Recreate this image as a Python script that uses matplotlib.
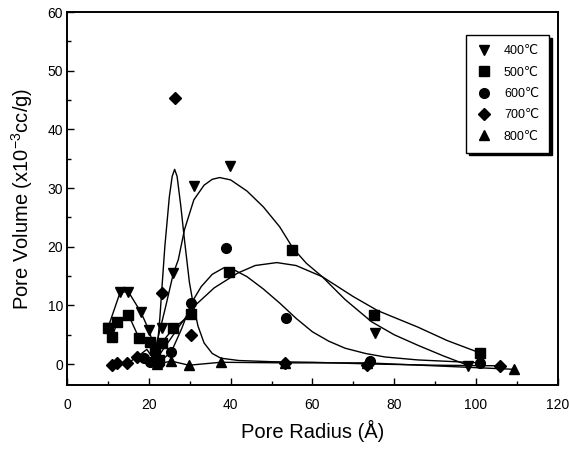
import matplotlib.pyplot as plt
from matplotlib.ticker import MultipleLocator

plt.rcParams['font.family'] = ['Liberation Sans', 'DejaVu Sans']

labels = ['400℃', '500℃', '600℃', '700℃', '800℃']
markers = ['v', 's', 'o', 'D', '^']

# measured points
x400 = [10, 13, 15, 18, 20, 23.1, 26, 31, 39.8, 75.4, 98]
y400 = [6.2, 12.3, 12.3, 8.9, 5.8, 6.2, 15.5, 30.3, 33.7, 5.3, -0.3]
x500 = [9.9, 11, 12.3, 15, 17.6, 20.3, 21.5, 22.4, 23.1, 26, 30.4, 39.5, 55, 75, 101]
y500 = [6.1, 4.6, 7.2, 8.4, 4.4, 3.8, 2.4, 0.7, 3.6, 6.1, 8.5, 15.7, 19.5, 8.4, 1.9]
x600 = [18.8, 20.3, 22.4, 25.5, 30.4, 38.8, 53.5, 74, 101]
y600 = [1.0, 0.4, 0.2, 2.1, 10.4, 19.8, 7.9, 0.6, 0.2]
x700 = [11, 12.3, 14.7, 17.1, 21, 23.1, 26.3, 30.4, 53.4, 73.4, 106]
y700 = [-0.2, 0.1, 0.1, 1.2, 0.5, 12.1, 45.3, 5.0, 0.2, -0.2, -0.3]
x800 = [22, 25.5, 29.8, 37.6, 53.3, 73.3, 109.4]
y800 = [0.0, 0.5, -0.2, 0.3, 0.2, 0.2, -0.9]

# connecting lines at small radii
l400x = [10, 13, 15, 18, 20, 21.5]
l400y = [6.2, 12.3, 12.3, 8.9, 5.8, 2.4]
l500x = [9.9, 11, 12.3, 15, 17.6, 20.3, 21.5, 23.1, 26, 30.4]
l500y = [6.1, 4.6, 7.2, 8.4, 4.4, 3.8, 2.4, 3.6, 6.1, 8.5]
l600x = [18.8, 20.3, 22.4, 25.5]
l600y = [1.0, 0.4, 0.2, 2.1]
l700x = [11, 12.3, 14.7, 17.1, 19.5, 21.5]
l700y = [-0.2, 0.1, 0.1, 1.2, 2.5, 0.5]

# fitted curves
c400x = [21.5, 24, 26, 27.2, 28.7, 31, 33.5, 35.5, 37.3, 40, 44, 48, 52, 55.2,
         58.5, 62.4, 68, 74.5, 80, 85.8, 92, 98]
c400y = [2.4, 9.5, 15.5, 17.8, 22.9, 28.0, 30.5, 31.5, 31.8, 31.4, 29.5, 26.8,
         23.4, 19.8, 17.2, 14.9, 11.0, 7.2, 5.0, 3.2, 1.4, -0.2]
c500x = [22, 25, 28, 31, 36, 41.7, 46, 51.3, 56, 62.4, 70, 76, 85.8, 93, 101]
c500y = [1.0, 4.0, 7.0, 9.8, 13.0, 15.5, 16.8, 17.3, 16.8, 14.9, 11.5, 9.1,
         6.3, 4.0, 1.9]
c600x = [25.5, 28, 30.4, 32.8, 35.5, 38.3, 41, 44, 48, 52, 56, 60, 64, 68, 73,
         77.8, 85.8, 101]
c600y = [2.1, 6.0, 10.4, 13.2, 15.3, 16.4, 16.0, 14.9, 12.8, 10.4, 7.8, 5.5,
         3.9, 2.7, 1.8, 1.2, 0.7, 0.2]
c700x = [21.5, 22.2, 22.7, 23.1, 23.9, 25, 25.7, 26.3, 26.9, 27.8, 28.7, 29.9,
         30.8, 32, 33.5, 35.5, 37.6, 42, 50, 60, 75, 90, 106]
c700y = [0.5, 4.0, 8.0, 12.1, 20.0, 28.5, 32.0, 33.2, 32.0, 27.0, 21.2, 14.0,
         10.4, 6.5, 3.6, 1.8, 1.0, 0.6, 0.4, 0.3, 0.0, -0.2, -0.3]

fig = plt.figure(figsize=(5.69, 4.51), dpi=100)
ax = fig.add_axes([0.118, 0.146, 0.862, 0.827])

kw = dict(color='black', linewidth=1.0)
ax.plot(l400x, l400y, **kw)
ax.plot(l500x, l500y, **kw)
ax.plot(l600x, l600y, **kw)
ax.plot(l700x, l700y, **kw)
ax.plot(c400x, c400y, **kw)
ax.plot(c500x, c500y, **kw)
ax.plot(c600x, c600y, **kw)
ax.plot(c700x, c700y, **kw)
ax.plot(x800, y800, **kw)

xs = [x400, x500, x600, x700, x800]
ys = [y400, y500, y600, y700, y800]
sizes = [7.5, 7, 7, 6.5, 7]
for x, y, m, lab, s in zip(xs, ys, markers, labels, sizes):
    ax.plot(x, y, linestyle='none', marker=m, markersize=s, color='black',
            label=lab)

ax.set_xlim(0, 120)
ax.set_ylim(-3.6, 60)
ax.xaxis.set_major_locator(MultipleLocator(20))
ax.xaxis.set_minor_locator(MultipleLocator(10))
ax.yaxis.set_major_locator(MultipleLocator(10))
ax.yaxis.set_minor_locator(MultipleLocator(5))
ax.tick_params(which='both', direction='in', top=False, right=False,
               labelsize=10)
ax.tick_params(axis='x', pad=9)
ax.tick_params(axis='y', pad=3)
ax.tick_params(which='major', length=5, width=1)
ax.tick_params(which='minor', length=3, width=1)
for sp in ax.spines.values():
    sp.set_linewidth(1.4)

ax.set_xlabel('Pore Radius (Å)', fontsize=14.5, labelpad=6)
ax.set_ylabel(r'Pore Volume (x10$^{\mathregular{-3}}$cc/g)', fontsize=14.5,
              labelpad=9)

leg = ax.legend(loc='upper right', bbox_to_anchor=(0.995, 0.955), fontsize=9,
                frameon=True, fancybox=False, edgecolor='black',
                framealpha=1, shadow={'color': 'black', 'alpha': 1},
                handletextpad=1.0, labelspacing=0.75, borderpad=0.8,
                handlelength=1.2)
leg.get_frame().set_linewidth(1.0)

fig.savefig('out.png', dpi=100)
